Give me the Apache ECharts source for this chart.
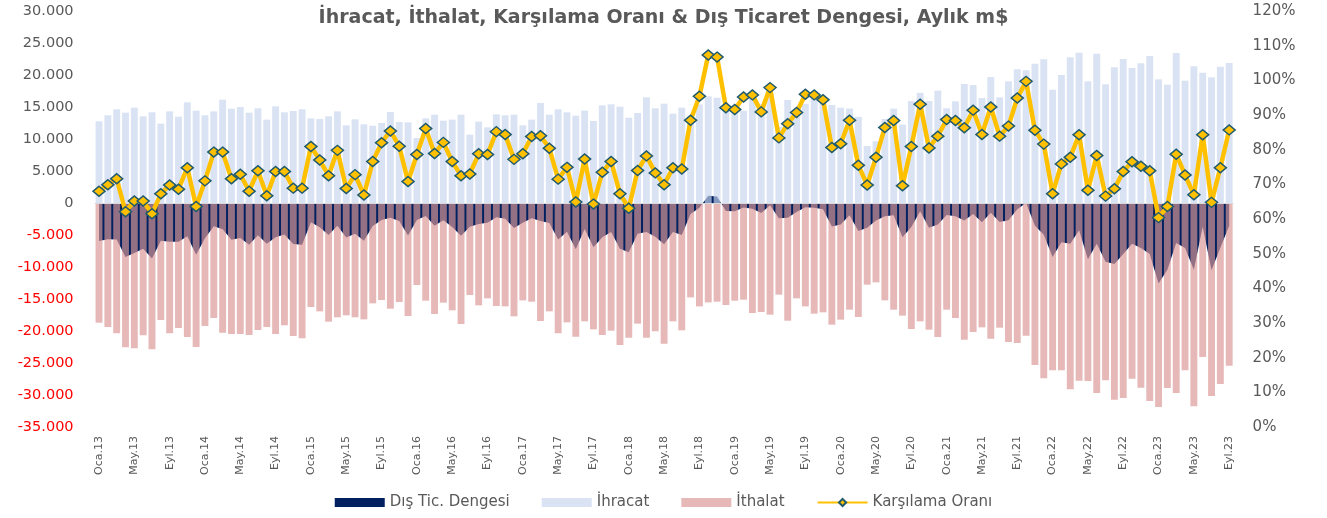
<!DOCTYPE html>
<html>
<head>
<meta charset="utf-8">
<script src="https://cdn.jsdelivr.net/npm/echarts@6/dist/echarts.min.js"></script>
<style>
  html, body { margin: 0; padding: 0; background: #fff; }
  #chart { width: 1327px; height: 518px; }
</style>
</head>
<body>
<div id="chart"></div>
<script>
// aylar, Oca.13 - Eyl.23
const aylar = ['Oca', 'Şub', 'Mar', 'Nis', 'May', 'Haz', 'Tem', 'Ağu', 'Eyl', 'Eki', 'Kas', 'Ara'];
const yillar = ['13', '14', '15', '16', '17', '18', '19', '20', '21', '22', '23'];
const sonAy = 9; // 2023 Eylül

// İhracat, m$
const ihracat = [
  12760, 13700, 14640, 14110, 14900, 13540, 14170, 12400, 14320, 13490, 15730, 14430,
  13700, 14320, 16150, 14740, 15000, 14110, 14790, 13020, 15100, 14170, 14380, 14640,
  13230, 13130, 13540, 14320, 12140, 13070, 12290, 12080, 12500, 14220, 12660, 12600,
  10160, 13230, 13800, 12860, 13020, 13800, 10680, 12710, 11820, 13850, 13700, 13800,
  12140, 13020, 15630, 13800, 14640, 14170, 13650, 14430, 12810, 15260, 15420, 15050,
  13330, 14060, 16510, 14790, 15520, 13960, 14900, 13050, 15400, 16670, 16450, 14680,
  13990, 14420, 16300, 15480, 17080, 11940, 16090, 13510, 15500, 16560, 16120, 15320,
  14890, 14750, 13450, 8910, 9650, 13140, 14740, 12250, 15930, 17210, 15930, 17570,
  14790, 15890, 18600, 18430, 16410, 19690, 16510, 19010, 20890, 20730, 21770, 22450,
  17710, 20000, 22760, 23490, 19010, 23330, 18540, 21200, 22500, 21090, 21820, 22970,
  19320, 18490, 23440, 19110, 21350, 20360, 19640, 21300, 21880
];

// İthalat, m$ (grafikte negatif)
const ithalat = [
  -18700, -19380, -20360, -22550, -22710, -20680, -22860, -18280, -20360, -19530, -20940, -22500,
  -19220, -17970, -20260, -20470, -20470, -20630, -19840, -19380, -20470, -19110, -20780, -21150,
  -16250, -16930, -18540, -17860, -17550, -17860, -18180, -15680, -15160, -16510, -15470, -17660,
  -12810, -15260, -17340, -15570, -16770, -18910, -14380, -15990, -14900, -16090, -16150, -17710,
  -15210, -15420, -18440, -16930, -20360, -18650, -20890, -18490, -19740, -20630, -19950, -22190,
  -21040, -18850, -21040, -20050, -21980, -18490, -19900, -14750, -16160, -15530, -15420, -15940,
  -15270, -15110, -17190, -17030, -17450, -14320, -18390, -14900, -16150, -17290, -17080, -19010,
  -18230, -16670, -17810, -12760, -12400, -15210, -16670, -17600, -19690, -18490, -19790, -20940,
  -16670, -17970, -21350, -20160, -19430, -21200, -19480, -21720, -21880, -20730, -25310, -27400,
  -26150, -26150, -29120, -27760, -27810, -29690, -27710, -30730, -30470, -27450, -28850, -30940,
  -31880, -28910, -29690, -26150, -31770, -24060, -30160, -28280, -25420
];

// Dış ticaret dengesi, m$
const dengesi = [
  -5940, -5680, -5720, -8440, -7810, -7140, -8690, -5880, -6040, -6040, -5210, -8070,
  -5520, -3650, -4110, -5730, -5470, -6520, -5050, -6360, -5370, -4940, -6400, -6510,
  -3020, -3800, -5000, -3540, -5410, -4790, -5890, -3600, -2660, -2290, -2810, -5060,
  -2650, -2030, -3540, -2710, -3750, -5110, -3700, -3280, -3080, -2240, -2450, -3910,
  -3070, -2400, -2810, -3130, -5720, -4480, -7240, -4060, -6930, -5370, -4530, -7140,
  -7710, -4790, -4530, -5260, -6460, -4530, -5000, -1700, -760, 1140, 1030, -1260,
  -1280, -690, -890, -1550, -370, -2380, -2300, -1390, -650, -730, -960, -3690,
  -3340, -1920, -4360, -3850, -2750, -2070, -1930, -5350, -3760, -1280, -3860, -3370,
  -1880, -2080, -2750, -1730, -3020, -1510, -2970, -2710, -990, 0, -3540, -4950,
  -8440, -6150, -6360, -4270, -8800, -6360, -9170, -9530, -7970, -6360, -7030, -7970,
  -12560, -10420, -6250, -7040, -10420, -3700, -10520, -6980, -3540
];

// Karşılama oranı, %
const karsilama = [
  68.0, 69.9, 71.6, 62.1, 65.2, 65.2, 61.5, 67.3, 69.8, 68.6, 74.8, 63.6,
  71.0, 79.3, 79.3, 71.6, 72.9, 68.0, 73.9, 66.7, 73.7, 73.7, 68.9, 68.9,
  80.9, 77.0, 72.5, 79.8, 68.8, 72.8, 66.9, 76.6, 82.0, 85.4, 81.0, 70.8,
  78.6, 86.1, 78.9, 82.1, 76.6, 72.5, 73.0, 78.8, 78.6, 85.2, 84.4, 77.2,
  78.8, 83.8, 84.0, 80.4, 71.5, 74.9, 64.9, 77.3, 64.3, 73.5, 76.6, 67.3,
  63.1, 74.0, 78.2, 73.3, 69.9, 74.8, 74.4, 88.5, 95.4, 107.3, 106.7, 92.1,
  91.6, 95.2, 95.8, 90.9, 97.9, 83.4, 87.5, 90.7, 96.0, 95.8, 94.4, 80.6,
  81.7, 88.5, 75.5, 69.8, 77.8, 86.4, 88.4, 69.6, 80.9, 93.1, 80.5, 83.9,
  88.7, 88.4, 86.3, 91.4, 84.4, 92.3, 83.9, 86.8, 94.9, 99.7, 85.6, 81.6,
  67.3, 75.9, 77.8, 84.3, 68.3, 78.3, 66.6, 68.7, 73.7, 76.5, 75.2, 73.9,
  60.4, 63.6, 78.7, 72.7, 67.0, 84.3, 64.8, 74.8, 85.7
];

let kategoriler = [];
yillar.forEach((y, i) => {
  aylar.forEach((a, j) => {
    if (i < yillar.length - 1 || j < sonAy) kategoriler.push(a + '.' + y);
  });
});

const FONT = 'DejaVu Sans';
const GRI = '#595959';

function binlik(v) {
  let s = Math.abs(v).toString().replace(/\B(?=(\d{3})+(?!\d))/g, '.');
  return v < 0 ? '{neg|-' + s + '}' : s;
}

let myChart = echarts.init(document.getElementById('chart'));

let option = {
  animation: false,
  title: {
    text: 'İhracat, İthalat, Karşılama Oranı & Dış Ticaret Dengesi, Aylık m$',
    left: 'center',
    top: 4,
    textStyle: { fontFamily: FONT, fontSize: 19, fontWeight: 'bold', color: GRI }
  },
  legend: {
    bottom: 3,
    left: 'center',
    itemWidth: 50,
    itemHeight: 9,
    itemGap: 32,
    textStyle: { fontFamily: FONT, fontSize: 15, color: GRI },
    data: [
      { name: 'Dış Tic. Dengesi', icon: 'rect' },
      { name: 'İhracat', icon: 'rect' },
      { name: 'İthalat', icon: 'rect' },
      { name: 'Karşılama Oranı' }
    ]
  },
  grid: {
    left: 94.6,
    right: 93.4,
    top: 11,
    bottom: 91,
    containLabel: false,
    outerBoundsMode: 'none'
  },
  xAxis: {
    type: 'category',
    data: kategoriler,
    boundaryGap: true,
    axisLine: { show: false, onZero: false },
    axisTick: { show: false },
    splitLine: { show: false },
    axisLabel: {
      interval: 3,
      rotate: 90,
      margin: 9,
      fontFamily: FONT,
      fontSize: 11,
      color: GRI
    }
  },
  yAxis: [
    {
      type: 'value',
      min: -35000,
      max: 30000,
      interval: 5000,
      axisLine: { show: false },
      axisTick: { show: false },
      splitLine: { show: false },
      axisLabel: {
        margin: 21,
        fontFamily: FONT,
        fontSize: 14.5,
        color: GRI,
        formatter: binlik,
        rich: { neg: { color: '#ff0000', fontFamily: FONT, fontSize: 14.5 } }
      }
    },
    {
      type: 'value',
      min: 0,
      max: 120,
      interval: 10,
      axisLine: { show: false },
      axisTick: { show: false },
      splitLine: { show: false },
      axisLabel: {
        margin: 19,
        fontFamily: FONT,
        fontSize: 15,
        color: GRI,
        formatter: '{value}%'
      }
    }
  ],
  series: [
    {
      name: 'Dış Tic. Dengesi',
      type: 'line',
      data: dengesi,
      color: '#002060',
      showSymbol: false,
      symbol: 'none',
      lineStyle: { width: 0 },
      areaStyle: { color: '#002060', opacity: 1 },
      z: 1
    },
    {
      name: 'İhracat',
      type: 'bar',
      data: ihracat,
      barCategoryGap: '22%',
      color: 'rgba(200,213,237,0.67)',
      itemStyle: { color: 'rgba(200,213,237,0.67)' },
      z: 2,
      markLine: {
        silent: true,
        symbol: 'none',
        label: { show: false },
        lineStyle: { color: '#d9d9d9', type: 'solid', width: 1 },
        data: [{ yAxis: 0 }]
      }
    },
    {
      name: 'İthalat',
      type: 'bar',
      data: ithalat,
      barGap: '-100%',
      barCategoryGap: '22%',
      color: 'rgba(218,151,151,0.68)',
      itemStyle: { color: 'rgba(218,151,151,0.68)' },
      z: 2
    },
    {
      name: 'Karşılama Oranı',
      type: 'line',
      yAxisIndex: 1,
      data: karsilama,
      color: '#ffc000',
      lineStyle: { color: '#ffc000', width: 4.5 },
      symbol: 'diamond',
      symbolSize: [12, 10],
      showAllSymbol: true,
      itemStyle: { color: '#ffc000', borderColor: '#1f5a6e', borderWidth: 1.5 },
      z: 5
    }
  ]
};

myChart.setOption(option);
</script>
</body>
</html>
